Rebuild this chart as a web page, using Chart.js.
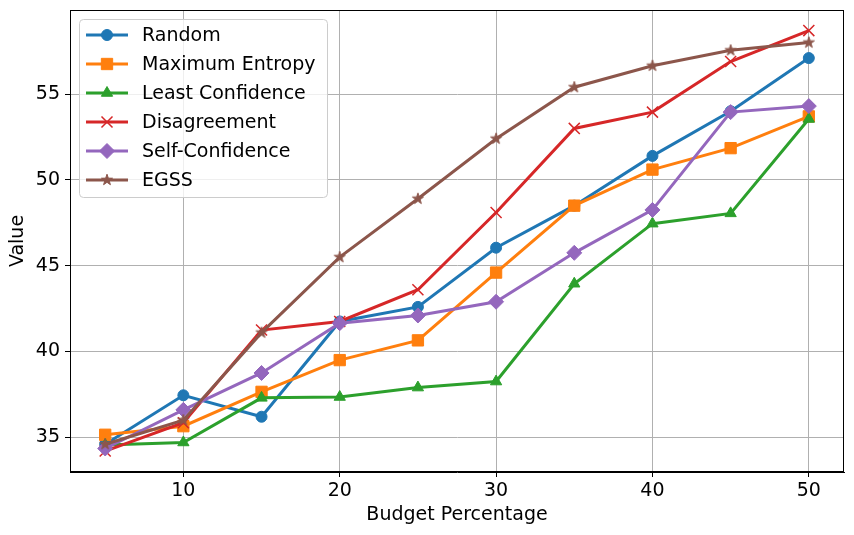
<!DOCTYPE html>
<html>
<head>
<meta charset="utf-8">
<script src="https://cdn.jsdelivr.net/npm/chart.js@4/dist/chart.umd.min.js"></script>
<style>
  html, body { margin: 0; padding: 0; background: #fff; }
  #wrap { width: 854px; height: 535px; position: relative; }
</style>
</head>
<body>
<div id="wrap"><canvas id="chart"></canvas></div>
<script>
const budget = [5, 10, 15, 20, 25, 30, 35, 40, 45, 50]
const random = [34.6, 37.45, 36.2, 41.75, 42.6, 46.05, 48.5, 51.4, 54.0, 57.1]
const maxEntropy = [35.15, 35.65, 37.65, 39.5, 40.65, 44.6, 48.5, 50.6, 51.85, 53.7]
const leastConfidence = [34.55, 34.7, 37.3, 37.35, 37.9, 38.25, 43.95, 47.45, 48.05, 53.55]
const disagreement = [34.2, 35.85, 41.25, 41.75, 43.6, 48.1, 53.0, 53.95, 56.9, 58.7]
const selfConfidence = [34.35, 36.6, 38.75, 41.65, 42.1, 42.9, 45.75, 48.25, 53.95, 54.3]
const egss = [34.6, 36.0, 41.1, 45.5, 48.9, 52.4, 55.4, 56.65, 57.55, 58.0]

const xTicks = [10, 20, 30, 40, 50]
const yTicks = [35, 40, 45, 50, 55]

// filled 5-point star like matplotlib's '*'
function makeStar(color) {
  const c = document.createElement('canvas')
  c.width = 16
  c.height = 16
  const g = c.getContext('2d')
  g.beginPath()
  for (let i = 0; i < 10; i++) {
    const r = i % 2 === 0 ? 5.8 : 2.3
    const a = -Math.PI / 2 + i * Math.PI / 5
    const px = 8 + r * Math.cos(a)
    const py = 8 + r * Math.sin(a)
    if (i === 0) g.moveTo(px, py)
    else g.lineTo(px, py)
  }
  g.closePath()
  g.fillStyle = color
  g.strokeStyle = color
  g.lineWidth = 1
  g.fill()
  g.stroke()
  return c
}

const series = [
  { label: 'Random', data: random, color: '#1f77b4', style: 'circle', radius: 5.5, bw: 1 },
  { label: 'Maximum Entropy', data: maxEntropy, color: '#ff7f0e', style: 'rect', radius: 8, bw: 1 },
  { label: 'Least Confidence', data: leastConfidence, color: '#2ca02c', style: 'triangle', radius: 6.5, bw: 1 },
  { label: 'Disagreement', data: disagreement, color: '#d62728', style: 'crossRot', radius: 7.8, bw: 1.5 },
  { label: 'Self-Confidence', data: selfConfidence, color: '#9467bd', style: 'rectRot', radius: 7.5, bw: 1 },
  { label: 'EGSS', data: egss, color: '#8c564b', style: makeStar('#8c564b'), radius: 6, bw: 1 }
]

const datasets = series.map((s, i) => ({
  label: s.label,
  data: budget.map((b, j) => ({ x: b, y: s.data[j] })),
  borderColor: s.color,
  backgroundColor: s.color,
  borderWidth: 3,
  tension: 0,
  fill: false,
  pointStyle: s.style,
  pointRadius: s.radius,
  pointBorderWidth: s.bw,
  pointBackgroundColor: s.color,
  pointBorderColor: s.color,
  order: series.length - i
}))

// matplotlib-style legend box inside the axes
const legendBox = {
  id: 'legendBox',
  afterDatasetsDraw(chart) {
    const ctx = chart.ctx
    const a = chart.chartArea
    const left = a.left + 9.5
    const top = a.top + 9.5
    ctx.save()
    ctx.beginPath()
    ctx.roundRect(left, top, 248, 178, 4)
    ctx.fillStyle = 'rgba(255,255,255,0.8)'
    ctx.fill()
    ctx.strokeStyle = '#cccccc'
    ctx.lineWidth = 1
    ctx.stroke()
    ctx.font = '19px "DejaVu Sans"'
    ctx.textBaseline = 'middle'
    chart.data.datasets.forEach((ds, i) => {
      const y = top + 15.5 + i * 29
      ctx.strokeStyle = ds.borderColor
      ctx.lineWidth = 3
      ctx.beginPath()
      ctx.moveTo(left + 6.5, y)
      ctx.lineTo(left + 48.5, y)
      ctx.stroke()
      ctx.fillStyle = ds.pointBackgroundColor
      ctx.strokeStyle = ds.pointBorderColor
      ctx.lineWidth = ds.pointBorderWidth
      Chart.helpers.drawPoint(ctx, {
        pointStyle: ds.pointStyle,
        radius: ds.pointRadius,
        borderWidth: ds.pointBorderWidth,
        rotation: 0
      }, left + 27.5, y)
      ctx.fillStyle = '#000'
      ctx.fillText(ds.label, left + 62.5, y + 1)
    })
    ctx.restore()
  },
  afterDraw(chart) {
    const ctx = chart.ctx
    const a = chart.chartArea
    ctx.save()
    ctx.strokeStyle = '#000'
    ctx.lineWidth = 1
    ctx.strokeRect(a.left + 0.5, a.top + 0.5, a.right - a.left - 1, a.bottom - a.top - 1)
    ctx.restore()
  }
}

Chart.defaults.font.family = '"DejaVu Sans"'
Chart.defaults.font.size = 19
Chart.defaults.color = '#000'

new Chart(document.getElementById('chart'), {
  type: 'line',
  data: { datasets },
  plugins: [legendBox],
  options: {
    responsive: true,
    maintainAspectRatio: false,
    animation: false,
    layout: { padding: { top: 10, right: 10, left: 0, bottom: 0 } },
    plugins: {
      legend: { display: false },
      tooltip: { enabled: false }
    },
    scales: {
      x: {
        type: 'linear',
        min: 2.75,
        max: 52.25,
        afterBuildTicks: (scale) => { scale.ticks = xTicks.map(v => ({ value: v })) },
        afterFit: (scale) => {
          scale.height = 63
          scale.paddingLeft = 0
          scale.paddingRight = 0
        },
        ticks: { padding: 3, maxRotation: 0, font: { size: 19 } },
        grid: { color: '#b0b0b0', lineWidth: 1, tickColor: '#000', tickLength: 5 },
        border: { color: '#000', width: 1 },
        title: {
          display: true,
          text: 'Budget Percentage',
          font: { size: 19 },
          padding: { top: 0, bottom: 8.6 }
        }
      },
      y: {
        min: 32.98,
        max: 59.9,
        afterBuildTicks: (scale) => { scale.ticks = yTicks.map(v => ({ value: v })) },
        afterFit: (scale) => {
          scale.width = 70
          scale.paddingTop = 0
          scale.paddingBottom = 0
        },
        ticks: { padding: 5, font: { size: 19 } },
        grid: { color: '#b0b0b0', lineWidth: 1, tickColor: '#000', tickLength: 5 },
        border: { color: '#000', width: 1 },
        title: {
          display: true,
          text: 'Value',
          font: { size: 19 },
          padding: { top: 6.6, bottom: 0 }
        }
      }
    }
  }
})
</script>
</body>
</html>
